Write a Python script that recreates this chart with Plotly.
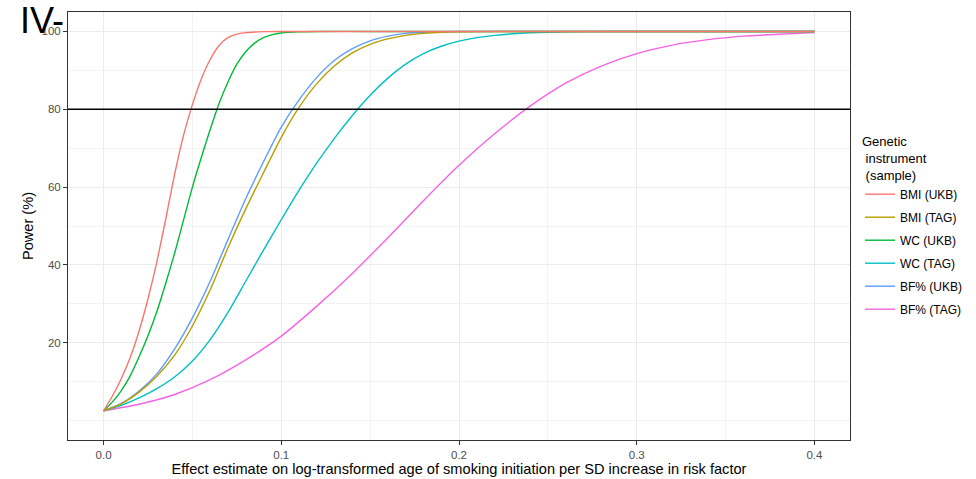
import plotly.graph_objects as go

# ---- data ----
series_names = ["BMI (UKB)", "BMI (TAG)", "WC (UKB)", "WC (TAG)", "BF% (UKB)", "BF% (TAG)"]
series_colors = ["#F8766D", "#B79F00", "#00BA38", "#00BFC4", "#619CFF", "#F564E3"]

bmi_ukb_x = [0, 0.005, 0.01, 0.015, 0.02, 0.025, 0.03, 0.035, 0.04, 0.045, 0.05, 0.055, 0.06, 0.065,
             0.07, 0.075, 0.08, 0.09, 0.1, 0.15, 0.2, 0.3, 0.4]
bmi_ukb_y = [2.5, 6.3, 10.8, 16.2, 23, 31.3, 40.8, 51.8, 63.3, 73.3, 81.2, 87.8, 92.8, 96.4,
             98.4, 99.3, 99.7, 99.95, 100, 100, 100, 100, 100]

bmi_tag_x = [0, 0.01, 0.02, 0.03, 0.04, 0.05, 0.06, 0.07, 0.08, 0.09, 0.1, 0.11, 0.12, 0.13, 0.14,
             0.15, 0.16, 0.17, 0.18, 0.19, 0.2, 0.22, 0.25, 0.3, 0.4]
bmi_tag_y = [2.5, 4.3, 7.3, 11.4, 16.8, 24.3, 33.6, 44.4, 54.4, 63.7, 72.8, 80.5, 86.6, 91.2, 94.5,
             96.7, 98.1, 99, 99.5, 99.8, 99.9, 100, 100, 100, 100]

wc_ukb_x = [0, 0.005, 0.01, 0.015, 0.02, 0.025, 0.03, 0.035, 0.04, 0.045, 0.05, 0.055, 0.06, 0.065,
            0.07, 0.075, 0.08, 0.085, 0.09, 0.095, 0.1, 0.11, 0.12, 0.15, 0.2, 0.3, 0.4]
wc_ukb_y = [2.5, 4.8, 7.7, 11.5, 16.4, 21.8, 28, 35.3, 43, 51.5, 60, 67.6, 74.8, 81.5,
            87, 91.6, 94.8, 97, 98.4, 99.2, 99.6, 99.9, 100, 100, 100, 100, 100]

wc_tag_x = [0, 0.01, 0.02, 0.03, 0.04, 0.05, 0.06, 0.07, 0.08, 0.09, 0.1, 0.11, 0.12, 0.13, 0.14,
            0.15, 0.16, 0.17, 0.18, 0.19, 0.2, 0.21, 0.22, 0.23, 0.24, 0.25, 0.27, 0.3, 0.35, 0.4]
wc_tag_y = [2.5, 3.9, 5.8, 8.2, 11.2, 15.3, 20.8, 27.8, 35.8, 43.8, 51.6, 59.2, 66.2, 72.6, 78.4,
            83.6, 88, 91.6, 94.3, 96.2, 97.5, 98.4, 99, 99.4, 99.65, 99.8, 99.95, 100, 100, 100]

bf_ukb_x = [0, 0.01, 0.02, 0.03, 0.04, 0.05, 0.06, 0.07, 0.08, 0.09, 0.1, 0.11, 0.12, 0.13, 0.14,
            0.15, 0.16, 0.17, 0.18, 0.2, 0.25, 0.3, 0.4]
bf_ukb_y = [2.5, 4.4, 7.6, 12, 18.4, 26.4, 35.8, 46.5, 57, 66.5, 75.4, 82.4, 88.2, 92.6, 95.6,
            97.6, 98.8, 99.5, 99.8, 100, 100, 100, 100]

bf_tag_x = [0, 0.02, 0.04, 0.06, 0.08, 0.1, 0.12, 0.14, 0.16, 0.18, 0.2, 0.22, 0.24, 0.26, 0.28,
            0.3, 0.32, 0.34, 0.36, 0.38, 0.4]
bf_tag_y = [2.5, 4.2, 6.7, 10.5, 15.6, 21.7, 29.4, 37.8, 47, 56.5, 65.6, 73.7, 80.8, 86.7, 91.1,
            94.3, 96.5, 97.9, 98.8, 99.3, 99.7]

series_x = [bmi_ukb_x, bmi_tag_x, wc_ukb_x, wc_tag_x, bf_ukb_x, bf_tag_x]
series_y = [bmi_ukb_y, bmi_tag_y, wc_ukb_y, wc_tag_y, bf_ukb_y, bf_tag_y]

threshold = 80
x_ticks = [0.0, 0.1, 0.2, 0.3, 0.4]
y_ticks = [20, 40, 60, 80, 100]

FONT = "Liberation Sans, Arial, sans-serif"

fig = go.Figure()
# add in reverse so red is drawn on top; legendrank keeps legend order
for i in reversed(range(len(series_names))):
    fig.add_trace(go.Scatter(
        x=series_x[i], y=series_y[i], mode="lines", name=series_names[i],
        legendgroup=series_names[i], legendrank=i + 1,
        line=dict(color=series_colors[i], width=1.4, shape="spline", smoothing=0.6),
        hoverinfo="skip",
    ))

fig.add_hline(y=threshold, line=dict(color="black", width=1.5), layer="above")

axis_common = dict(
    showline=True, linecolor="#333333", linewidth=1, mirror=True,
    ticks="outside", ticklen=4, tickcolor="#333333", tickwidth=1,
    gridcolor="#EBEBEB", gridwidth=1, zeroline=False,
    tickfont=dict(family=FONT, size=11.5, color="#4D4D4D"),
)

fig.update_xaxes(
    range=[-0.02, 0.42], tickvals=x_ticks, ticktext=[f"{v:.1f}" for v in x_ticks],
    minor=dict(dtick=0.05, tick0=0, showgrid=True, gridcolor="#F3F3F3", gridwidth=1, ticks=""),
    title=dict(text="Effect estimate on log-transformed age of smoking initiation per SD increase in risk factor",
               font=dict(family=FONT, size=14.6, color="black"), standoff=3),
    **axis_common,
)
fig.update_yaxes(
    range=[-5, 105], tickvals=y_ticks,
    minor=dict(dtick=10, tick0=0, showgrid=True, gridcolor="#F3F3F3", gridwidth=1, ticks=""),
    title=dict(text="Power (%)", font=dict(family=FONT, size=14.6, color="black"), standoff=4),
    **axis_common,
)

fig.add_annotation(
    text="IV-", xref="paper", yref="paper", x=(18 - 68) / 782, y=(440 - 20) / 428,
    xanchor="left", yanchor="middle", showarrow=False,
    font=dict(family=FONT, size=36, color="black"),
)

fig.update_layout(
    width=976, height=479,
    margin=dict(l=68, r=126, t=12, b=39, autoexpand=False),
    paper_bgcolor="white", plot_bgcolor="white",
    showlegend=True,
    legend=dict(
        x=(860 - 68) / 782, y=(440 - 129) / 428, xanchor="left", yanchor="top",
        traceorder="grouped", tracegroupgap=4,
        title=dict(text="Genetic<br> instrument<br> (sample)",
                   font=dict(family=FONT, size=13, color="black")),
        font=dict(family=FONT, size=12, color="black"),
        itemwidth=30, bgcolor="rgba(0,0,0,0)",
    ),
)

fig.write_html("out.html")
